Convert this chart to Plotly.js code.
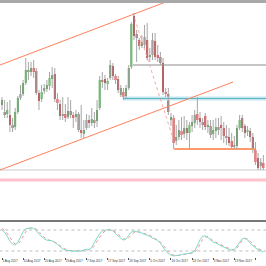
<!DOCTYPE html>
<html><head><meta charset="utf-8">
<script src="https://cdn.plot.ly/plotly-3.0.1.min.js"></script>
<style>html,body{margin:0;padding:0;background:#fff}#c{width:266px;height:266px}</style>
</head><body><div id="c"></div>
<script>
// ---- data (price in chart units) ----
const openP  = [115,108,106,105,95,93,108,122,126,137,150,148,152,149,127,121,129,131,134,141,146,121,116,104,106,103,109,105,103,106,90,86,92,100,97,100,99,112,140,141,136,142,154,144,141,125,128,124,132,153,204,186,180,174,175,180,163,165,179,165,163,157,128,126,100,102,79,83,89,86,92,87,94,97,106,102,98,104,93,94,86,89,93,95,92,84,83,79,73,74,92,102,94,88,89,83,70,62,54,57];
const highP  = [123,120,118,120,102,112,124,135,140,162,158,158,160,152,130,135,136,140,148,153,152,127,120,123,116,123,120,108,110,108,115,100,106,105,112,108,120,144,148,145,142,160,157,146,144,135,132,135,155,198,207,190,182,185,195,197,172,187,187,175,168,162,132,132,107,105,95,100,103,104,100,98,105,110,123,108,102,107,100,100,100,102,102,104,98,95,92,87,84,95,105,105,96,94,92,87,78,67,62,65];
const lowP   = [110,102,102,88,88,90,106,120,124,135,140,144,142,125,110,118,126,128,130,132,118,110,100,100,98,101,102,92,98,88,82,82,90,92,94,92,93,110,132,130,130,140,140,136,127,123,120,122,130,151,180,158,170,172,172,160,158,160,160,158,155,125,123,105,94,71,75,80,80,82,80,71,88,92,95,92,90,90,87,82,80,82,85,80,77,75,74,71,71,71,90,88,82,84,78,67,55,50,50,50];
const closeP = [120,105,110,95,92,108,122,126,137,150,148,152,148,127,119,128,132,135,142,145,121,117,104,106,102,109,105,102,106,90,87,90,100,97,101,97,110,140,138,137,139,155,144,140,130,132,123,132,152,196,184,182,174,178,183,162,165,180,163,162,157,128,126,108,103,77,83,90,85,92,87,95,98,105,100,98,95,93,95,85,90,93,90,92,84,82,77,73,75,92,100,92,87,90,83,70,58,52,58,52];
const stochMain   = [80,74,62,48,40,37,45,60,75,84,86,86,85,78,68,60,55,51,50,49,45,38,31,26,23,21,20,19,20,19,20,23,25,24,30,45,58,70,77,80,81,80,78,70,62,56,51,55,65,74,77,76,73,71,68,66,62,57,53,50,42,30,20,13,8,6,6,8,10,11,12,13,15,20,35,52,62,63,58,50,45,43,40,35,31,28,25,22,24,35,47,55,57,52,42,34,29,24,20,17];
const stochSignal = [84,79,70,58,48,40,40,48,62,75,83,86,86,82,75,66,59,54,51,50,47,42,35,29,25,22,21,20,20,20,20,21,23,24,27,35,48,60,70,77,80,81,80,75,68,61,55,53,58,66,73,76,75,73,70,68,65,60,56,52,46,37,27,18,12,8,7,7,8,10,11,12,14,17,25,40,53,60,61,56,49,45,42,38,34,30,27,24,23,28,39,50,55,55,48,39,32,27,23,20];
const stochLevels = [80, 20];
const tickIndex = [0,8,16,24,32,40,48,56,64,72,80,88,96];
const tickLabels = ["1 Aug 2017","10 Aug 2017","20 Aug 2017","29 Aug 2017","7 Sep 2017","17 Sep 2017","26 Sep 2017","5 Oct 2017","16 Oct 2017","24 Oct 2017","3 Nov 2017","13 Nov 2017","21 Nov 2017"];
// drawn objects (bar index, price)
const upperChannelX = [-0.76, 65],  upperChannelY = [155, 221];
const lowerChannelX = [-0.76, 87.5], lowerChannelY = [50, 138];
const dottedTrendX  = [49.6, 64.5], dottedTrendY  = [207, 84];
const grayLevelX = [49.6, 101],  grayLevelY = [155, 155];
const blueLevelX = [45.8, 101],  blueLevelY = [121.5, 121.5];
const orangeLevelX = [65.2, 96.2], orangeLevelY = [71, 71];
const silverLevelX = [-1, 101],  silverLevelY = [50, 50];
const pinkLevelX = [-1, 101],    pinkLevelY = [40, 40];

// ---- build traces ----
const n = openP.length;
const idx = openP.map((_, i) => i);
const wx = [], wy = [];
for (let i = 0; i < n; i++) { wx.push(i, i, null); wy.push(lowP[i], highP[i], null); }
const bodyBase = idx.map(i => Math.min(openP[i], closeP[i]));
const bodyH = idx.map(i => Math.max(Math.abs(closeP[i] - openP[i]), 0.8));
const bodyCol = idx.map(i => closeP[i] > openP[i] ? '#3a9a3a' : (closeP[i] < openP[i] ? '#c4161c' : '#888'));

function line(x, y, color, width, dash, yaxis) {
  return {type:'scatter', mode:'lines', x:x, y:y, yaxis:yaxis||'y', hoverinfo:'skip',
          line:{color:color, width:width, dash:dash||'solid'}, showlegend:false};
}
const traces = [
  line(pinkLevelX, pinkLevelY, '#ffc2cc', 3),
  line(silverLevelX, silverLevelY, '#dcdcdc', 1.5),
  line(blueLevelX, blueLevelY, '#c3e7ef', 4),
  line(blueLevelX, blueLevelY, '#5fb4c4', 1),
  line(grayLevelX, grayLevelY, '#8c8c8c', 1),
  line(upperChannelX, upperChannelY, '#ff7f5c', 1),
  line(lowerChannelX, lowerChannelY, '#ff7f5c', 1),
  line(dottedTrendX, dottedTrendY, '#f5a9a0', 1, 'dot'),
  line(orangeLevelX, orangeLevelY, '#ff9a6a', 2),
  {type:'scatter', mode:'lines', x:wx, y:wy, line:{color:'#a6a6a6', width:1}, hoverinfo:'skip', showlegend:false},
  {type:'bar', x:idx, y:bodyH, base:bodyBase, width:0.72, marker:{color:bodyCol, line:{width:0}}, hoverinfo:'skip', showlegend:false},
  line([-1,101], [stochLevels[0], stochLevels[0]], '#bdbdbd', 1, 'dot', 'y2'),
  line([-1,101], [stochLevels[1], stochLevels[1]], '#bdbdbd', 1, 'dot', 'y2'),
  {type:'scatter', mode:'lines', x:idx, y:stochSignal, yaxis:'y2', line:{color:'#f4948c', width:1, dash:'dot'}, hoverinfo:'skip', showlegend:false},
  {type:'scatter', mode:'lines', x:idx, y:stochMain, yaxis:'y2', line:{color:'#7ed9cc', width:1}, hoverinfo:'skip', showlegend:false}
];

const H = 266;
const layout = {
  width:266, height:266, margin:{l:0, r:0, t:0, b:0},
  paper_bgcolor:'#ffffff', plot_bgcolor:'#ffffff',
  showlegend:false, barmode:'overlay',
  font:{family:'"Liberation Sans", Arial, sans-serif', size:3, color:'#333'},
  xaxis:{range:[-0.758, 100.0], anchor:'free', position:1-257/H, showgrid:false, zeroline:false, showline:false,
         tickmode:'array', tickvals:tickIndex, ticktext:tickLabels, tickangle:0, ticks:'outside', ticklen:2, tickwidth:1, tickcolor:'#555',
         ticklabelposition:'outside right', tickfont:{size:3, color:'#333'}, fixedrange:true},
  yaxis:{domain:[1-220/H, 1-3/H], range:[0, 217], showgrid:false, zeroline:false, showticklabels:false, showline:false},
  yaxis2:{domain:[1-258/H, 1-223/H], range:[0, 100], showgrid:false, zeroline:false, showticklabels:false, showline:false},
  shapes:[
    {type:'rect', xref:'paper', yref:'paper', x0:0, x1:1, y0:1-3/H, y1:1, fillcolor:'#a9a9a9', line:{width:0}},
    {type:'line', xref:'paper', yref:'paper', x0:0, x1:1, y0:1-221/H, y1:1-221/H, line:{color:'#4a4a4a', width:1.5}}
  ]
};
Plotly.newPlot('c', traces, layout, {staticPlot:true, displayModeBar:false});
</script>
</body></html>
